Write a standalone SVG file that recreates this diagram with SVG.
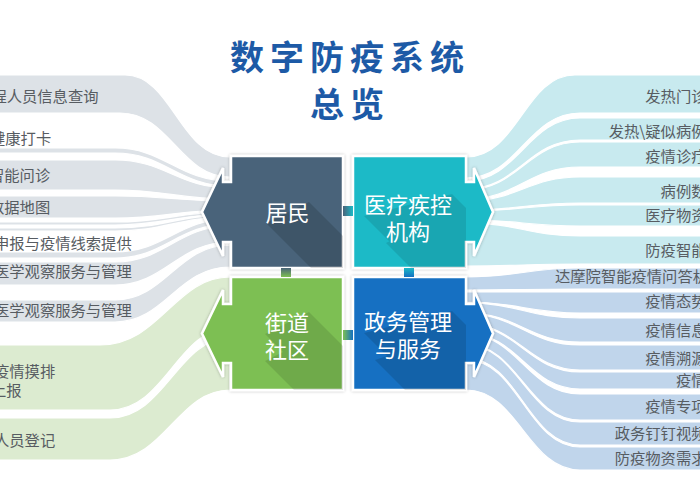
<svg xmlns="http://www.w3.org/2000/svg" width="700" height="500" viewBox="0 0 700 500">
<defs>
<style>
.lbl{font-family:"Noto Sans CJK SC","Noto Sans",sans-serif;font-size:15.3px;fill:#575c62}
.rl{text-anchor:end}
.box{font-family:"Noto Sans CJK SC","Noto Sans",sans-serif;font-size:22px;fill:#fff;text-anchor:middle}
.title{font-family:"Noto Sans CJK SC","Noto Sans",sans-serif;font-size:34px;font-weight:bold;fill:#1d5aa6;text-anchor:middle;letter-spacing:6px}
.gray path{fill:#dde2e7;stroke:#fff;stroke-width:1.2}
.green path{fill:#dcebd0;stroke:#fff;stroke-width:1.2}
.cyan path{fill:#c8eaef;stroke:#fff;stroke-width:1.2}
.blue path{fill:#c0d5eb;stroke:#fff;stroke-width:1.2}
.shape{stroke:#fff;stroke-width:2.5;stroke-linejoin:miter}
</style>
<filter id="sh" x="-10%" y="-10%" width="120%" height="120%">
<feDropShadow dx="0" dy="0" stdDeviation="1.6" flood-color="#000" flood-opacity="0.3"/>
</filter>
<clipPath id="cTL"><rect x="231" y="156" width="112" height="112"/></clipPath>
<clipPath id="cTR"><rect x="353" y="156" width="113" height="112"/></clipPath>
<clipPath id="cBL"><rect x="231" y="277" width="112" height="113"/></clipPath>
<clipPath id="cBR"><rect x="353" y="277" width="113" height="113"/></clipPath>
<linearGradient id="gTLTR" x1="0" x2="1" y1="0" y2="0"><stop offset="0" stop-color="#4a637a"/><stop offset="1" stop-color="#1bbac7"/></linearGradient>
<linearGradient id="gTRBR" x1="0" x2="0" y1="0" y2="1"><stop offset="0" stop-color="#1bbac7"/><stop offset="1" stop-color="#1470c2"/></linearGradient>
<linearGradient id="gTLBL" x1="0" x2="0" y1="0" y2="1"><stop offset="0" stop-color="#4a637a"/><stop offset="1" stop-color="#7dbf52"/></linearGradient>
<linearGradient id="gBLBR" x1="0" x2="1" y1="0" y2="0"><stop offset="0" stop-color="#7dbf52"/><stop offset="1" stop-color="#1470c2"/></linearGradient>
</defs>
<rect width="700" height="500" fill="#fff"/>

<g id="connectors">
<g class="gray">
<path d="M -5,75 L 125,75 C 172,75 180,157 230,157 L 230,177 C 180,177 170,113 120,113 L -5,113 Z"/>
<path d="M -5,148 L 115,148 C 165,148 178,181 230,181 L 230,186 C 178,186 165,153 115,153 L -5,153 Z"/>
<path d="M -5,160 L 115,160 C 165,160 178,188 230,188 L 230,199 C 178,199 165,190 115,190 L -5,190 Z"/>
<path d="M -5,196 L 115,196 C 165,196 178,201 230,201 L 230,210 C 178,210 165,218 115,218 L -5,218 Z"/>
<path d="M -5,222 L 115,222 C 165,222 178,212 230,212 L 230,214 C 178,214 165,225 115,225 L -5,225 Z"/>
<path d="M -5,228 L 115,228 C 165,228 178,215 230,215 L 230,217 C 178,217 165,231 115,231 L -5,231 Z"/>
<path d="M -5,252 L 115,252 C 165,252 178,219 230,219 L 230,224 C 178,224 165,258 115,258 L -5,258 Z"/>
<path d="M -5,262 L 115,262 C 165,262 178,226 230,226 L 230,242 C 178,242 165,285 115,285 L -5,285 Z"/>
<path d="M -5,300 L 115,300 C 165,300 178,245 230,245 L 230,267 C 178,267 165,322 115,322 L -5,322 Z"/>
</g>
<g class="green">
<path d="M -5,345 L 100,345 C 160,345 175,277 230,277 L 230,328 C 178,328 165,410 110,410 L -5,410 Z"/>
<path d="M -5,418 L 110,418 C 165,418 178,338 230,338 L 230,390 C 178,390 165,460 110,460 L -5,460 Z"/>
</g>
<g class="cyan">
<path d="M 705,75 L 575,75 C 525,75 518,157 466,157 L 466,178 C 518,178 528,113 580,113 L 705,113 Z"/>
<path d="M 705,118 L 580,118 C 528,118 518,181 466,181 L 466,189 C 518,189 528,140 580,140 L 705,140 Z"/>
<path d="M 705,142 L 580,142 C 528,142 518,190 466,190 L 466,199 C 518,199 528,167 580,167 L 705,167 Z"/>
<path d="M 705,177 L 580,177 C 528,177 518,201 466,201 L 466,210 C 518,210 528,203 580,203 L 705,203 Z"/>
<path d="M 705,205 L 580,205 C 528,205 518,211 466,211 L 466,220 C 518,220 528,226 580,226 L 705,226 Z"/>
<path d="M 705,236 L 580,236 C 528,236 518,223 466,223 L 466,266 C 518,266 528,264 580,264 L 705,264 Z"/>
</g>
<g class="blue">
<path d="M 705,268 L 580,268 C 528,268 518,277 466,277 L 466,290 C 518,290 528,289 580,289 L 705,289 Z"/>
<path d="M 705,292 L 580,292 C 528,292 518,292 466,292 L 466,302 C 518,302 528,313 580,313 L 705,313 Z"/>
<path d="M 705,318 L 580,318 C 528,318 518,303 466,303 L 466,313 C 518,313 528,342 580,342 L 705,342 Z"/>
<path d="M 705,345 L 580,345 C 528,345 518,314 466,314 L 466,324 C 518,324 528,370 580,370 L 705,370 Z"/>
<path d="M 705,372 L 580,372 C 528,372 518,325 466,325 L 466,333 C 518,333 528,389 580,389 L 705,389 Z"/>
<path d="M 705,394 L 580,394 C 528,394 518,334 466,334 L 466,344 C 518,344 528,420 580,420 L 705,420 Z"/>
<path d="M 705,422 L 580,422 C 528,422 518,345 466,345 L 466,358 C 518,358 528,445 580,445 L 705,445 Z"/>
<path d="M 705,447 L 580,447 C 528,447 518,360 466,360 L 466,390 C 518,390 528,470 580,470 L 705,470 Z"/>
</g>
</g>

<text class="title" x="350" y="70">数字防疫系统</text>
<text class="title" x="350" y="117">总览</text>

<g id="labels-left">
<text class="lbl" x="-8.6" y="102.2">程人员信息查询</text>
<text class="lbl" x="-10" y="143.8">健康打卡</text>
<text class="lbl" x="-11" y="181">智能问诊</text>
<text class="lbl" x="-11" y="213">数据地图</text>
<text class="lbl" x="-6" y="248.5">申报与疫情线索提供</text>
<text class="lbl" x="-6" y="277.2">医学观察服务与管理</text>
<text class="lbl" x="-6" y="315.5">医学观察服务与管理</text>
<text class="lbl" x="-6" y="377.2">疫情摸排</text>
<text class="lbl" x="-9" y="395.5">上报</text>
<text class="lbl" x="-6" y="445.5">人员登记</text>
</g>
<g id="labels-right">
<text class="lbl rl" x="706.5" y="102.2">发热门诊</text>
<text class="lbl rl" x="706.5" y="137.2">发热\疑似病例</text>
<text class="lbl rl" x="706.5" y="162.2">疫情诊疗</text>
<text class="lbl rl" x="706.5" y="197.2">病例数</text>
<text class="lbl rl" x="706.5" y="220.5">医疗物资</text>
<text class="lbl rl" x="706.5" y="255.5">防疫智能</text>
<text class="lbl rl" x="708" y="282.2">达摩院智能疫情问答机</text>
<text class="lbl rl" x="706.5" y="307.2">疫情态势</text>
<text class="lbl rl" x="706.5" y="335.5">疫情信息</text>
<text class="lbl rl" x="706.5" y="363.5">疫情溯源</text>
<text class="lbl rl" x="706.5" y="385.5">疫情</text>
<text class="lbl rl" x="706.5" y="412.2">疫情专项</text>
<text class="lbl rl" x="706.5" y="438.5">政务钉钉视频</text>
<text class="lbl rl" x="706.5" y="463.5">防疫物资需求</text>
</g>

<g id="node-resident">
<polygon class="shape" filter="url(#sh)" fill="#4a637a" points="231,156 343,156 343,268 231,268 231,242 223,242 223,256 202,212 223,168 223,182 231,182"/>
<g clip-path="url(#cTL)" opacity="0.14"><polygon points="266,223 309,202 420,313 377,334"/></g>
<text class="box" x="287.5" y="220.5">居民</text>
</g>
<g id="node-medical">
<polygon class="shape" filter="url(#sh)" fill="#1bbac7" points="353,156 466,156 466,182 474,182 474,168 493,212 474,256 474,242 466,242 466,268 353,268"/>
<g clip-path="url(#cTR)" opacity="0.1"><polygon points="364,216 452,194 560,302 472,324"/><polygon points="386,243 430,221 540,331 496,353"/></g>
<text class="box" x="408" y="212.5">医疗疾控</text>
<text class="box" x="408" y="240">机构</text>
</g>
<g id="node-community">
<polygon class="shape" filter="url(#sh)" fill="#7dbf52" points="231,277 343,277 343,390 231,390 231,363 223,363 223,377 202,333.5 223,290 223,304 231,304"/>
<g clip-path="url(#cBL)" opacity="0.1"><polygon points="265,334 309,312 420,423 376,445"/><polygon points="265,361 309,339 420,450 376,472"/></g>
<text class="box" x="287" y="330.5">街道</text>
<text class="box" x="287" y="358">社区</text>
</g>
<g id="node-government">
<polygon class="shape" filter="url(#sh)" fill="#1470c2" points="353,277 466,277 466,304 474,304 474,290 493,333.5 474,377 474,363 466,363 466,390 353,390"/>
<g clip-path="url(#cBR)" opacity="0.12"><polygon points="364,333 452,311 560,419 472,441"/><polygon points="375,360 441,338 550,447 484,469"/></g>
<text class="box" x="408" y="329.5">政务管理</text>
<text class="box" x="408" y="357">与服务</text>
</g>
<g id="links">
<rect x="343" y="206" width="10" height="10" fill="url(#gTLTR)"/>
<rect x="404" y="268" width="10" height="9" fill="url(#gTRBR)"/>
<rect x="281" y="268" width="10" height="9" fill="url(#gTLBL)"/>
<rect x="343" y="330" width="10" height="10" fill="url(#gBLBR)"/>
</g>
</svg>
